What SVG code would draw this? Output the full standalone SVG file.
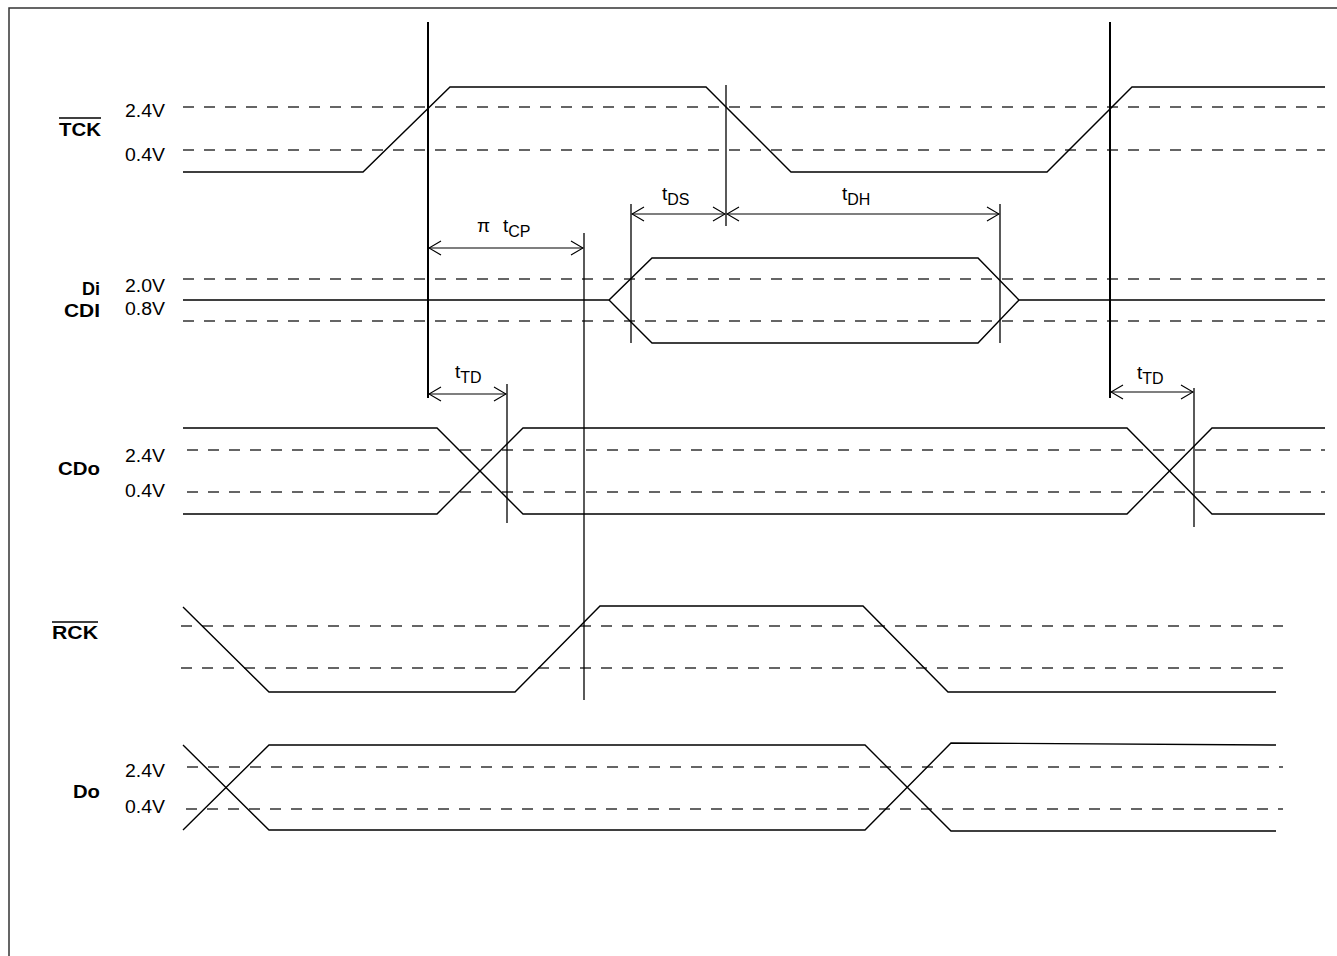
<svg xmlns="http://www.w3.org/2000/svg" width="1337" height="956" viewBox="0 0 1337 956">
<style>
.sig{stroke:#000;stroke-width:1.4;fill:none;stroke-linejoin:miter}
.dash{stroke:#333;stroke-width:1.4;fill:none;stroke-dasharray:11 10}
.ref{stroke:#000;stroke-width:2;fill:none}
.mk{stroke:#000;stroke-width:1.3;fill:none}
.arr{stroke:#000;stroke-width:1.2;fill:none;marker-start:url(#ah);marker-end:url(#ah)}
.v{font-family:"Liberation Sans",Arial,sans-serif;font-size:18px;fill:#000}
.b{font-family:"Liberation Sans",Arial,sans-serif;font-size:18px;font-weight:bold;fill:#000}
.t{font-family:"Liberation Sans",Arial,sans-serif;font-size:19px;fill:#000}
.s{font-size:16px}
</style>
<defs>
<marker id="ah" viewBox="0 0 14 16" refX="13" refY="8" markerWidth="14" markerHeight="16" markerUnits="userSpaceOnUse" orient="auto-start-reverse">
<path d="M1,1 L13,8 L1,15" fill="none" stroke="#000" stroke-width="1.2"/>
</marker>
</defs>
<rect width="1337" height="956" fill="#fff"/>
<g id="frame">
<polyline points="9,956 9,8 1337,8" fill="none" stroke="#333" stroke-width="1.5"/>
</g>

<g id="TCK">
<line class="dash" x1="183" y1="107" x2="1325" y2="107"/>
<line class="dash" x1="183" y1="150" x2="1325" y2="150"/>
<polyline class="sig" points="183,172 363,172 450,87 706,87 791,172 1047,172 1132,87 1325,87"/>
<text class="b" x="59" y="136" textLength="42" lengthAdjust="spacingAndGlyphs">TCK</text>
<line x1="59" y1="118" x2="101" y2="118" stroke="#000" stroke-width="1.5"/>
<text class="v" x="125" y="117" textLength="40" lengthAdjust="spacingAndGlyphs">2.4V</text>
<text class="v" x="125" y="161" textLength="40" lengthAdjust="spacingAndGlyphs">0.4V</text>
</g>

<g id="Di">
<line class="dash" x1="183" y1="279" x2="1325" y2="279"/>
<line class="dash" x1="183" y1="321" x2="1325" y2="321"/>
<polyline class="sig" points="183,300 609,300 652,258 978,258 1019,300 1325,300"/>
<polyline class="sig" points="609,300 652,343 978,343 1019,300"/>
<text class="b" x="82" y="295" textLength="18" lengthAdjust="spacingAndGlyphs">Di</text>
<text class="b" x="64" y="317" textLength="36" lengthAdjust="spacingAndGlyphs">CDI</text>
<text class="v" x="125" y="292" textLength="40" lengthAdjust="spacingAndGlyphs">2.0V</text>
<text class="v" x="125" y="315" textLength="40" lengthAdjust="spacingAndGlyphs">0.8V</text>
</g>

<g id="CDo">
<line class="dash" x1="187" y1="450" x2="1325" y2="450"/>
<line class="dash" x1="187" y1="492" x2="1325" y2="492"/>
<polyline class="sig" points="183,428 437,428 523,514 1127,514 1212,428 1325,428"/>
<polyline class="sig" points="183,514 437,514 523,428 1127,428 1212,514 1325,514"/>
<text class="b" x="58" y="475" textLength="42" lengthAdjust="spacingAndGlyphs">CDo</text>
<text class="v" x="125" y="462" textLength="40" lengthAdjust="spacingAndGlyphs">2.4V</text>
<text class="v" x="125" y="497" textLength="40" lengthAdjust="spacingAndGlyphs">0.4V</text>
</g>

<g id="RCK">
<line class="dash" x1="181" y1="626" x2="1283" y2="626"/>
<line class="dash" x1="181" y1="668" x2="1283" y2="668"/>
<polyline class="sig" points="183,607 269,692 515,692 600,606 863,606 948,692 1276,692"/>
<text class="b" x="52" y="639" textLength="46" lengthAdjust="spacingAndGlyphs">RCK</text>
<line x1="52" y1="622" x2="98" y2="622" stroke="#000" stroke-width="1.5"/>
</g>

<g id="Do">
<line class="dash" x1="187" y1="767" x2="1283" y2="767"/>
<line class="dash" x1="186" y1="809" x2="1283" y2="809"/>
<polyline class="sig" points="183,745 269,830 865,830 951,743 1276,745"/>
<polyline class="sig" points="183,830 269,745 865,745 951,831 1276,831"/>
<text class="b" x="73" y="798" textLength="27" lengthAdjust="spacingAndGlyphs">Do</text>
<text class="v" x="125" y="777" textLength="40" lengthAdjust="spacingAndGlyphs">2.4V</text>
<text class="v" x="125" y="813" textLength="40" lengthAdjust="spacingAndGlyphs">0.4V</text>
</g>

<g id="connectors">
<line class="ref" x1="428" y1="22" x2="428" y2="398"/>
<line class="ref" x1="1110" y1="22" x2="1110" y2="398"/>
<line class="mk" x1="726" y1="85" x2="726" y2="226"/>
<line class="mk" x1="631" y1="204" x2="631" y2="343"/>
<line class="mk" x1="1000" y1="204" x2="1000" y2="343"/>
<line class="mk" x1="584" y1="233" x2="584" y2="700"/>
<line class="mk" x1="507" y1="384" x2="507" y2="523"/>
<line class="mk" x1="1194" y1="388" x2="1194" y2="527"/>
<line class="arr" x1="632" y1="214" x2="725" y2="214"/>
<line class="arr" x1="727" y1="214" x2="999" y2="214"/>
<line class="arr" x1="429" y1="248" x2="583" y2="248"/>
<line class="arr" x1="429" y1="394" x2="506" y2="394"/>
<line class="arr" x1="1111" y1="392" x2="1193" y2="392"/>
</g>

<g id="labels">
<text class="t" x="662" y="200">t<tspan class="s" dy="5">DS</tspan></text>
<text class="t" x="842" y="200">t<tspan class="s" dy="5">DH</tspan></text>
<text class="t" x="477" y="232">π<tspan x="503">t</tspan><tspan class="s" dy="5">CP</tspan></text>
<text class="t" x="455" y="378">t<tspan class="s" dy="5">TD</tspan></text>
<text class="t" x="1137" y="379">t<tspan class="s" dy="5">TD</tspan></text>
</g>
</svg>
